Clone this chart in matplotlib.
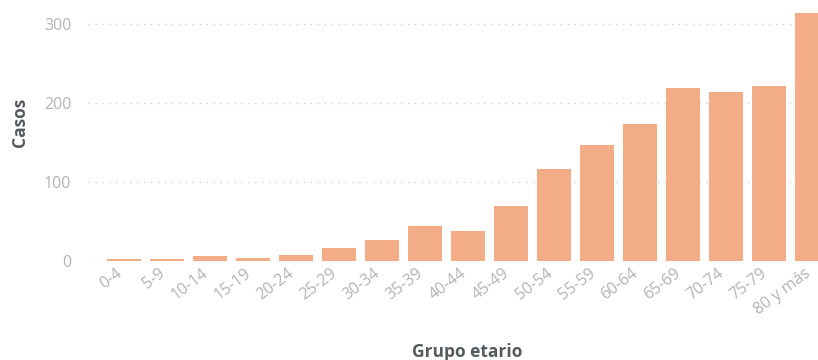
import matplotlib
matplotlib.use("Agg")
import matplotlib.pyplot as plt
import matplotlib.transforms as mtransforms

groups = ["0-4", "5-9", "10-14", "15-19", "20-24", "25-29", "30-34", "35-39",
          "40-44", "45-49", "50-54", "55-59", "60-64", "65-69", "70-74", "75-79",
          "80 y más"]
casos = [3, 3, 6, 4, 8, 17, 27, 44, 38, 70, 117, 147, 173, 219, 214, 221, 314]
yticks = [0, 100, 200, 300]

barColor = "#F2AC86"
tickColor = "#B3B3B3"
labelColor = "#555A5F"

plt.rcParams["font.family"] = ["Open Sans", "DejaVu Sans"]

fig = plt.figure(figsize=(8.18, 3.60), dpi=100)
ax = fig.add_axes([88 / 818, 99 / 360, 730 / 818, 261 / 360])

x = range(len(groups))
ax.bar(x, casos, width=0.79, color=barColor, zorder=2)

ax.set_xlim(-0.83, 16.15)
ax.set_ylim(0, 330.4)
ax.set_yticks(yticks)
ax.set_xticks(list(x))
ax.set_xticklabels(groups, rotation=37, ha="right", rotation_mode="anchor")
ax.grid(axis="y", linestyle=(0, (1, 4)), color="#D0D0D0", linewidth=1, zorder=0)
ax.tick_params(axis="both", length=0, colors=tickColor, labelsize=11.5)
ax.tick_params(axis="y", pad=12)
ax.tick_params(axis="x", pad=3)
for s in ax.spines.values():
    s.set_visible(False)

# shift x labels left so their ends sit just before the bar centres
shift = mtransforms.ScaledTranslation(-0.08, 0, fig.dpi_scale_trans)
for lbl in ax.get_xticklabels():
    lbl.set_transform(lbl.get_transform() + shift)

fig.text(20 / 818, 1 - 122 / 360, "Casos", rotation=90, ha="center", va="center",
         fontsize=12.5, fontweight="bold", color=labelColor)
fig.text(467 / 818, 1 - 352 / 360, "Grupo etario", ha="center", va="center",
         fontsize=12.5, fontweight="bold", color=labelColor)

fig.savefig("out.png", dpi=100)
